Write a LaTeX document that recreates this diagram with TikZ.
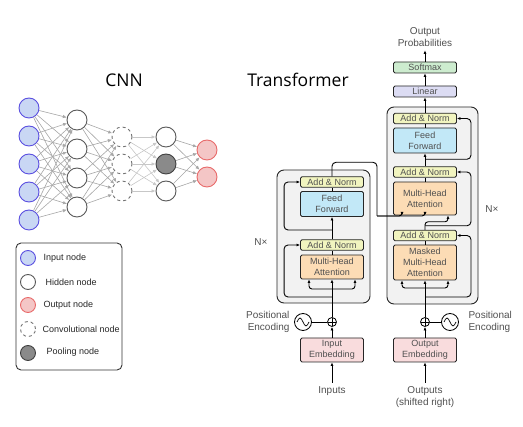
\documentclass[tikz,border=0pt]{standalone}
\usepackage{fontspec}
\setmainfont{Liberation Sans}
\newfontfamily\titlefont{Open Sans}
\usepackage{tikz}
\usetikzlibrary{arrows.meta,positioning,calc}

\definecolor{inblue}{HTML}{5A4FE0}
\definecolor{infill}{HTML}{C9D7F4}
\definecolor{outred}{HTML}{E86A6A}
\definecolor{outfill}{HTML}{F4C6C6}
\definecolor{poolgray}{HTML}{8A8A8A}
\definecolor{txtgray}{HTML}{505050}
\definecolor{anfill}{HTML}{F1F4BF}
\definecolor{fffill}{HTML}{C2E8F7}
\definecolor{attfill}{HTML}{FCDCB5}
\definecolor{smfill}{HTML}{CDECCF}
\definecolor{linfill}{HTML}{DCDCF3}
\definecolor{embfill}{HTML}{F9DCDD}
\definecolor{bggray}{HTML}{F2F2F2}

\begin{document}
\begin{tikzpicture}[
  x=1pt, y=-1pt,
  neuron/.style={circle, minimum size=20pt, inner sep=0pt, line width=0.9pt},
  innode/.style={neuron, draw=inblue, fill=infill},
  hidnode/.style={neuron, draw=black!65, fill=white},
  convnode/.style={neuron, draw=black!55, dashed, fill=white},
  poolnode/.style={neuron, draw=black!75, fill=poolgray},
  outnode/.style={neuron, draw=outred, fill=outfill},
  link/.style={draw=black!35, line width=0.6pt, -{Latex[length=4pt,width=3.5pt]}},
  legtext/.style={font=\fontsize{9}{10}\selectfont, text=black!85, anchor=west},
  layer/.style={rectangle, draw=black!85, rounded corners=1.5pt, line width=0.9pt,
    minimum width=63pt, inner sep=0pt, align=center, text=txtgray,
    font=\fontsize{9}{11}\selectfont},
  addnorm/.style={layer, fill=anfill, minimum height=10.5pt},
  ffwd/.style={layer, fill=fffill, minimum height=25pt},
  attn/.style={layer, fill=attfill},
  embed/.style={layer, fill=embfill, minimum height=24pt},
  stack/.style={rectangle, draw=black!85, fill=bggray, rounded corners=7pt, line width=0.9pt},
  lbl/.style={font=\fontsize{10}{12.5}\selectfont, text=txtgray, align=center},
  flow/.style={line width=0.9pt, -{Latex[length=3.5pt,width=3pt]}},
  plus/.style={circle, draw, line width=0.8pt, minimum size=9pt, inner sep=0pt,
    path picture={\draw[line width=0.6pt] (path picture bounding box.north) -- (path picture bounding box.south)
      (path picture bounding box.west) -- (path picture bounding box.east);}},
  wave/.style={circle, draw, line width=0.8pt, minimum size=17pt, inner sep=0pt,
    path picture={\draw[line width=0.7pt] ($(path picture bounding box.center)+(-6,0)$)
      sin ++(3,-4) cos ++(3,4) sin ++(3,4) cos ++(3,-4);}}
]
\useasboundingbox (0,0) rectangle (523,427);

% Titles
\node[font=\titlefont\fontsize{17.5}{20}\selectfont] (cnntitle) at (124,80) {CNN};
\node[font=\titlefont\fontsize{17.5}{20}\selectfont] (trftitle) at (298,80) {Transformer};

% CNN layers
\foreach \y [count=\k] in {108,136,164,192,220} \node[innode] (i\k) at (29,\y) {};
\foreach \y [count=\k] in {120,149,178,207} \node[hidnode] (h\k) at (77,\y) {};
\foreach \y [count=\k] in {137,164,191} \node[convnode] (c\k) at (122,\y) {};
\node[hidnode] (p1) at (166,137) {};
\node[poolnode] (p2) at (166,164) {};
\node[hidnode] (p3) at (166,191) {};
\node[outnode] (o1) at (207,150) {};
\node[outnode] (o2) at (207,177) {};

% CNN connections
\foreach \a in {1,...,5} \foreach \b in {1,...,4} \draw[link] (i\a) -- (h\b);
\foreach \a in {1,...,4} \foreach \b in {1,...,3} \draw[link] (h\a) -- (c\b);
\foreach \a in {1,...,3} \foreach \b in {1,...,3} \draw[link, draw=black!22] (c\a) -- (p\b);
\foreach \a in {1,...,3} \foreach \b in {1,2} \draw[link] (p\a) -- (o\b);

% Legend
\draw[line width=0.9pt, draw=black!80, rounded corners=5pt] (16,243) rectangle (122,370);
\node[innode, minimum size=15pt] (lin) at (28,258) {};
\node[legtext] (linT) at (40,258) {Input node};
\node[hidnode, minimum size=15pt] (lhid) at (28,282) {};
\node[legtext] (lhidT) at (42,282) {Hidden node};
\node[outnode, minimum size=15pt] (lout) at (28,305) {};
\node[legtext] (loutT) at (40,305) {Output node};
\node[convnode, minimum size=15pt] (lconv) at (28,329) {};
\node[legtext] (lconvT) at (39,329) {Convolutional node};
\node[poolnode, minimum size=15pt] (lpool) at (28,353) {};
\node[legtext] (lpoolT) at (43,352) {Pooling node};

% Encoder and decoder stacks
\node[stack, minimum width=93pt, minimum height=133pt] (enc) at (323.5,236.5) {};
\node[stack, minimum width=91pt, minimum height=197pt] (dec) at (432.5,205.5) {};
\node[lbl] (encn) at (261,242) {N×};
\node[lbl] (decn) at (492,209) {N×};

% Encoder layers
\node[attn, minimum height=24pt] (emha) at (332,267) {Multi-Head\\Attention};
\node[addnorm] (ean1) at (332,245) {Add \& Norm};
\node[ffwd] (eff) at (332,204) {Feed\\Forward};
\node[addnorm] (ean2) at (332,182) {Add \& Norm};

% Decoder layers
\node[attn, minimum height=35pt] (dmmha) at (425,262.5) {Masked\\Multi-Head\\Attention};
\node[addnorm] (dan1) at (425,235.5) {Add \& Norm};
\node[attn, minimum height=33pt] (dmha) at (425,198.5) {Multi-Head\\Attention};
\node[addnorm] (dan2) at (425,172) {Add \& Norm};
\node[ffwd] (dff) at (425,140.5) {Feed\\Forward};
\node[addnorm] (dan3) at (425,118.5) {Add \& Norm};
\node[layer, fill=linfill, minimum height=11pt] (linear) at (425,91.5) {Linear};
\node[layer, fill=smfill, minimum height=11pt] (softmax) at (425,67.5) {Softmax};
\node[lbl] (outprob) at (425,37) {Output\\Probabilities};

% Embeddings and positional encoding
\node[embed] (einemb) at (332,350) {Input\\Embedding};
\node[embed] (doutemb) at (425,350) {Output\\Embedding};
\node[plus] (eplus) at (332,322) {};
\node[plus] (dplus) at (425,322) {};
\node[wave] (ewave) at (303,322) {};
\node[wave] (dwave) at (450,322) {};
\node[lbl, anchor=east, align=right] (epos) at (293,322) {Positional\\Encoding};
\node[lbl, anchor=west, align=left] (dpos) at (465,322) {Positional\\Encoding};
\node[lbl] (inputs) at (332,391) {Inputs};
\node[lbl] (outputs) at (425,397) {Outputs\\(shifted right)};

% Encoder flow
\draw[flow] (inputs) -- (einemb);
\draw[flow] (einemb) -- (eplus);
\draw[line width=0.9pt] (ewave) -- (eplus);
\draw[flow] (eplus) -- (emha);
\coordinate (esplit) at (332,289);
\draw[flow, rounded corners=3pt] (esplit) -| ([xshift=-23pt]emha.south);
\draw[flow, rounded corners=3pt] (esplit) -| ([xshift=23pt]emha.south);
\coordinate (eres1) at (332,297);
\draw[flow, rounded corners=4pt] (eres1) -| ($(ean1.west)+(-16,0)$) -- (ean1.west);
\draw[line width=0.9pt] (emha) -- (ean1);
\draw[flow] (ean1) -- (eff);
\coordinate (eres2) at (332,230);
\draw[flow, rounded corners=4pt] (eres2) -| ($(ean2.west)+(-16,0)$) -- (ean2.west);
\draw[line width=0.9pt] (eff) -- (ean2);

% Encoder output into decoder
\coordinate (cross) at (377,216);
\draw[line width=0.9pt, rounded corners=4pt] (ean2.north) -- ++(0,-14) -| (cross);
\draw[flow, rounded corners=3pt] (cross) -| ([xshift=-23pt]dmha.south);
\draw[flow, rounded corners=3pt] (cross) -| (dmha.south);

% Decoder flow
\draw[flow] (outputs) -- (doutemb);
\draw[flow] (doutemb) -- (dplus);
\draw[line width=0.9pt] (dwave) -- (dplus);
\draw[flow] (dplus) -- (dmmha);
\coordinate (dsplit) at (425,288);
\draw[flow, rounded corners=3pt] (dsplit) -| ([xshift=-23pt]dmmha.south);
\draw[flow, rounded corners=3pt] (dsplit) -| ([xshift=23pt]dmmha.south);
\coordinate (dres1) at (425,297);
\draw[flow, rounded corners=4pt] (dres1) -| ($(dan1.east)+(14,0)$) -- (dan1.east);
\draw[line width=0.9pt] (dmmha) -- (dan1);
\draw[flow, rounded corners=3pt] (dan1.north) -- ++(0,-8) -| ([xshift=23pt]dmha.south);
\draw[flow, rounded corners=4pt] ($(dan1.north)+(0,-4)$) -| ($(dan2.east)+(14,0)$) -- (dan2.east);
\draw[line width=0.9pt] (dmha) -- (dan2);
\draw[flow] (dan2) -- (dff);
\draw[flow, rounded corners=4pt] ($(dan2.north)+(0,-7)$) -| ($(dan3.east)+(14,0)$) -- (dan3.east);
\draw[line width=0.9pt] (dff) -- (dan3);
\draw[flow] (dan3) -- (linear);
\draw[flow] (linear) -- (softmax);
\draw[flow] (softmax) -- (outprob);

\end{tikzpicture}
\end{document}
